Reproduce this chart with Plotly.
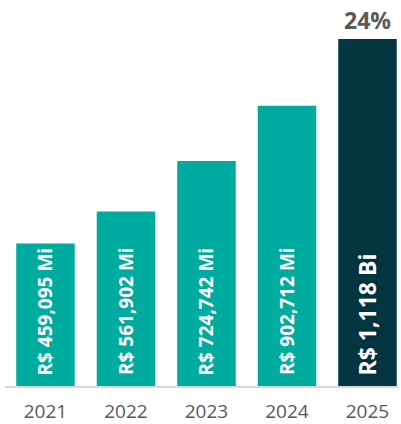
import plotly.graph_objects as go

years = ['2021', '2022', '2023', '2024', '2025']
values = [459.095, 561.902, 724.742, 902.712, 1118]  # R$ mi
labels = ['R$ 459,095 Mi', 'R$ 561,902 Mi', 'R$ 724,742 Mi', 'R$ 902,712 Mi', 'R$ 1,118 Bi']
growth_label = '24%'

teal = '#00AC9F'
dark = '#033641'
colors = [teal, teal, teal, teal, dark]

fig = go.Figure()

fig.add_trace(go.Bar(
    x=years,
    y=values,
    marker=dict(color=colors, line=dict(width=0)),
    width=0.727,
    hoverinfo='skip'
))

annotations = []
# value labels, rotated, sitting at the bottom of each bar
for i, lab in enumerate(labels):
    big = i == len(years) - 1
    c = colors[i]
    annotations.append(dict(
        x=i, y=0, xref='x', yref='y',
        text='<b>' + lab + '</b>',
        textangle=-90,
        showarrow=False,
        xanchor='center', yanchor='bottom',
        yshift=9,
        font=dict(family='Open Sans', size=23 if big else 19, color='white',
                  shadow='0 0 2px %s, 0 0 2px %s, 0 0 2px %s, 0 0 2px %s' % (c, c, c, c))
    ))

annotations.append(dict(
    x=len(years) - 1, y=values[-1], xref='x', yref='y',
    text='<b>' + growth_label + '</b>',
    showarrow=False,
    xanchor='center', yanchor='bottom',
    yshift=1,
    font=dict(family='Open Sans', size=23, color='#595959')
))

fig.update_layout(
    width=401, height=424,
    margin=dict(l=5, r=3, t=10, b=38),
    paper_bgcolor='white',
    plot_bgcolor='white',
    showlegend=False,
    annotations=annotations,
    xaxis=dict(
        type='category',
        range=[-0.503, 4.379],
        automargin=False,
        showline=True,
        linecolor='#D9D9D9',
        linewidth=2,
        showgrid=False,
        ticks='',
        ticklabelstandoff=7,
        tickfont=dict(family='Open Sans', size=19, color='#595959')
    ),
    yaxis=dict(
        range=[0, 1211],
        visible=False,
        showgrid=False
    )
)

fig.write_html('out.html', config={'displayModeBar': False},
               post_script="document.body.style.margin='0';")
